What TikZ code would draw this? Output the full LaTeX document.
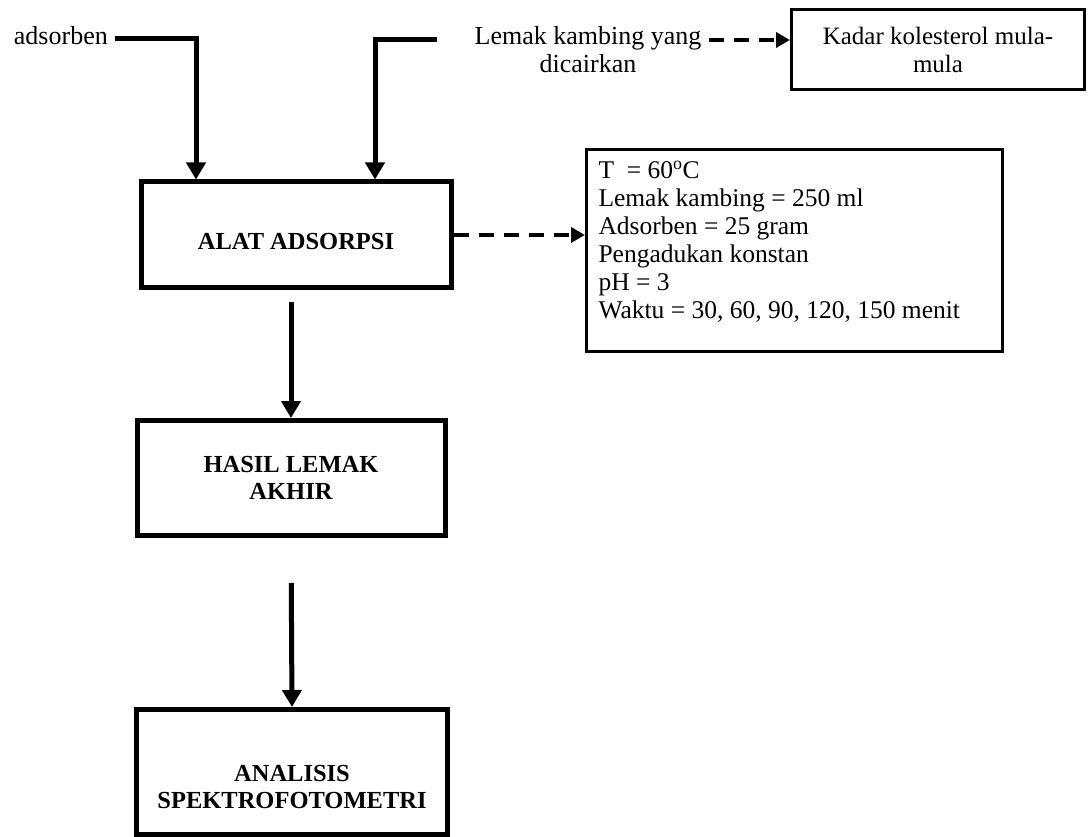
\documentclass[tikz,border=0pt]{standalone}
\usepackage{fontspec}
\setmainfont{Liberation Serif}
\usetikzlibrary{arrows.meta,positioning,calc}

\begin{document}
\begin{tikzpicture}[x=1pt, y=-1pt,
    box/.style={draw, line width=5pt, minimum width=310pt, align=center,
                font=\fontsize{24.5}{27}\selectfont\bfseries},
    note/.style={draw, line width=3pt, align=center, font=\fontsize{25}{28}\selectfont},
    lbl/.style={font=\fontsize{26}{28}\selectfont, inner sep=0pt, align=center},
    arr/.style={-{Triangle[length=17pt, width=19pt]}, line width=5pt},
    darr/.style={-{Triangle[length=14pt, width=15pt]}, line width=4pt,
                 dash pattern=on 15pt off 10pt}
]
\useasboundingbox (0,0) rectangle (1088,837);
% main chain
\node[box, minimum height=106pt] (alat) at (296,235) {\rule{0pt}{30pt}ALAT ADSORPSI};
\node[box, minimum width=308pt, minimum height=115pt] (hasil) at (291,478) {HASIL LEMAK\\AKHIR};
\node[box, minimum width=311pt, minimum height=125pt] (analisis) at (292,772) {\rule{0pt}{46pt}ANALISIS\\SPEKTROFOTOMETRI};

% inputs
\node[lbl, anchor=base east] (adsorben) at (108,45) {adsorben};
\node[lbl] (lemak) at (588,50) {Lemak kambing yang\\dicairkan};
\coordinate (adsin) at (115,39);
\coordinate (lemakin) at (437,40);
\coordinate (lemakout) at (709,40);

% side boxes
\node[note, minimum width=293pt, minimum height=80pt] (kadar) at (938,50) {Kadar kolesterol mula-\\mula};
\node[note, anchor=north west, inner sep=12pt, font=\fontsize{25.5}{28}\selectfont] (kondisi) at (585,148)
    {\begin{minipage}[t][178pt][t]{392pt}
     T\ \ = 60\textsuperscript{o}C\\
     Lemak kambing = 250 ml\\
     Adsorben = 25 gram\\
     Pengadukan konstan\\
     pH = 3\\
     Waktu = 30, 60, 90, 120, 150 menit
     \end{minipage}};

\draw[arr] (adsin) -| ([xshift=-100pt]alat.north);
\draw[arr] (lemakin) -| ([xshift=79pt]alat.north);
\draw[darr] (lemakout) -- (lemakout -| kadar.west);
\draw[darr] (alat.east) -- (alat.east -| kondisi.west);
\draw[arr, shorten <=12pt] (alat.south -| hasil.north) -- (hasil.north);
\draw[arr, shorten <=45pt] (hasil.south) -- (analisis.north);
\end{tikzpicture}
\end{document}
